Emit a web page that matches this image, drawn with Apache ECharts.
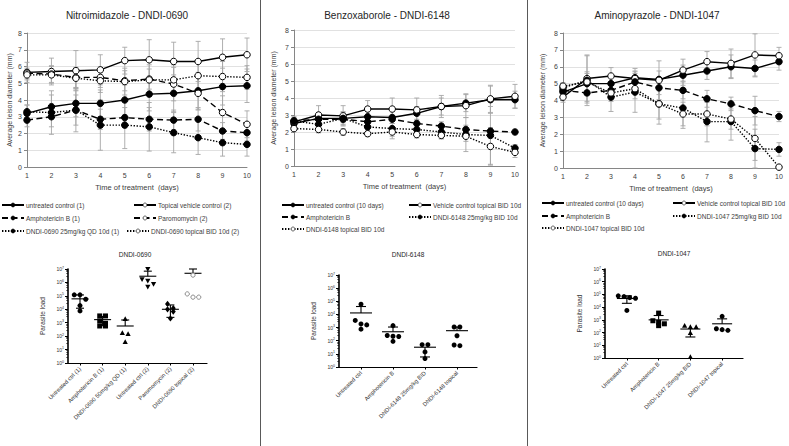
<!DOCTYPE html>
<html><head><meta charset="utf-8">
<script src="https://cdn.jsdelivr.net/npm/echarts@6/dist/echarts.min.js"></script>
<style>html,body{margin:0;padding:0;background:#fff}#c{width:789px;height:446px}</style>
</head><body><div id="c"></div>
<script>
// ---------- DATA ----------
const days = [1,2,3,4,5,6,7,8,9,10];

// Panel 1: Nitroimidazole - DNDI-0690
const p1Names = ['untreated control (1)','Topical vehicle control (2)','Amphotericin B (1)','Paromomycin (2)','DNDI-0690 25mg/kg QD 10d (1)','DNDI-0690 topical BID 10d (2)'];
const p1_untreated = [3.2, 3.6, 3.8, 3.8, 4.0, 4.35, 4.4, 4.55, 4.8, 4.85];
const p1_untreated_err = [0.5, 0.7, 0.8, 0.8, 0.9, 1.0, 1.1, 1.1, 1.1, 1.0];
const p1_vehicle = [5.65, 5.7, 5.75, 5.8, 6.35, 6.4, 6.3, 6.3, 6.55, 6.7];
const p1_vehicle_err = [0.6, 0.8, 1.2, 0.9, 0.8, 1.2, 1.15, 1.2, 1.1, 1.0];
const p1_ampho = [2.8, 3.0, 3.4, 2.85, 2.95, 2.85, 2.8, 2.85, 2.15, 2.05];
const p1_ampho_err = [0.4, 0.6, 0.9, 0.6, 0.6, 0.7, 0.6, 0.7, 0.5, 0.5];
const p1_paro = [5.6, 5.55, 5.35, 5.35, 5.15, 5.25, 4.95, 4.4, 3.25, 2.55];
const p1_paro_err = [0.3, 0.5, 0.6, 0.6, 0.6, 0.6, 1.0, 1.0, 1.0, 0.8];
const p1_oral = [3.3, 3.25, 3.4, 2.5, 2.5, 2.4, 2.05, 1.75, 1.45, 1.35];
const p1_oral_err = [0.4, 1.3, 1.3, 1.5, 1.4, 1.45, 1.2, 1.0, 0.8, 0.7];
const p1_topical = [5.5, 5.5, 5.3, 5.15, 5.1, 5.2, 5.2, 5.45, 5.4, 5.35];
const p1_topical_err = [0.3, 0.5, 0.6, 0.7, 0.8, 0.9, 0.9, 0.8, 0.9, 0.7];

// Panel 2: Benzoxaborole - DNDI-6148
const p2Names = ['untreated control (10 days)','Vehicle control topical BID 10d','Amphotericin B','DNDI-6148 25mg/kg BID 10d','DNDI-6148 topical BID 10d'];
const p2_untreated = [2.5, 2.8, 2.8, 2.9, 2.85, 3.1, 3.5, 3.7, 3.9, 3.9];
const p2_untreated_err = [0.2, 0.35, 0.4, 0.3, 0.35, 0.4, 0.5, 0.5, 0.8, 0.5];
const p2_vehicle = [2.6, 3.0, 2.95, 3.35, 3.35, 3.3, 3.5, 3.55, 3.95, 4.1];
const p2_vehicle_err = [0.3, 0.55, 0.6, 0.5, 0.65, 0.7, 0.65, 0.7, 0.8, 0.7];
const p2_ampho = [2.65, 2.75, 2.75, 2.6, 2.75, 2.5, 2.35, 2.15, 2.05, 2.0];
const p2_ampho_err = [0.15, 0.2, 0.2, 0.25, 0.25, 0.25, 0.25, 0.25, 0.2, 0.15];
const p2_oral = [2.65, 2.45, 2.8, 2.3, 2.2, 2.15, 2.0, 1.85, 1.8, 1.05];
const p2_oral_err = [0.2, 0.3, 0.35, 0.3, 0.6, 0.3, 0.4, 1.0, 1.7, 0.2];
const p2_topical = [2.2, 2.15, 2.0, 1.9, 2.0, 1.85, 1.8, 1.75, 1.15, 0.8];
const p2_topical_err = [0.2, 0.2, 0.2, 0.15, 0.25, 0.2, 0.2, 0.3, 1.1, 0.3];

// Panel 3: Aminopyrazole - DNDI-1047
const p3Names = ['untreated control (10 days)','Vehicle control topical BID 10d','Amphotericin B','DNDI-1047 25mg/kg BID 10d','DNDI-1047 topical BID 10d'];
const p3_untreated = [4.5, 5.0, 5.0, 5.35, 5.25, 5.5, 5.75, 6.0, 5.9, 6.3];
const p3_untreated_err = [0.2, 0.7, 0.5, 0.4, 0.5, 0.6, 0.5, 0.7, 0.5, 0.5];
const p3_vehicle = [4.2, 5.3, 5.45, 5.3, 5.2, 5.8, 6.3, 6.2, 6.7, 6.65];
const p3_vehicle_err = [0.3, 1.35, 0.5, 0.6, 1.15, 0.65, 0.6, 0.85, 1.25, 0.5];
const p3_ampho = [4.6, 4.45, 4.6, 5.1, 4.75, 4.6, 4.1, 3.8, 3.4, 3.05];
const p3_ampho_err = [0.3, 0.6, 0.5, 0.5, 0.4, 0.5, 0.5, 0.4, 0.85, 0.3];
const p3_oral = [4.75, 5.2, 4.2, 4.5, 3.8, 3.55, 2.75, 2.75, 1.15, 1.1];
const p3_oral_err = [0.2, 1.5, 0.85, 1.2, 1.2, 1.2, 1.2, 1.1, 1.15, 0.4];
const p3_topical = [4.85, 5.1, 4.45, 4.7, 3.8, 3.2, 3.2, 2.9, 1.75, 0.05];
const p3_topical_err = [0.2, 0.5, 0.5, 0.6, 0.9, 0.7, 0.7, 0.6, 1.3, 0.1];

// Parasite load scatter plots (log scale 10^0 .. 10^7)
const s1Title = 'DNDI-0690';
const s1Cats = ['Untreated ctrl (1)','Amphotericin B (1)','DNDI-0690 50mg/kg QD (1)','Untreated ctrl (2)','Paromomycin (2)','DNDI-0690 topical (2)'];
const s1Points = [[1.2e5,1.2e5,5.6e4,1.9e4,7.6e3],[3.2e3,3.2e3,1.35e3,9.1e2,5.7e2,5.7e2],[1.9e3,1.7e2,1.45e2,3.6e1],[1.0e7,1.7e6,4.8e5,7.6e5,1.35e6],[2.5e4,1.0e4,1.2e4,6.8e3,2.1e3],[3.5e6,1.4e5,8.0e4,8.0e4]];
const s1Mean = [6.0e4, 1.7e3, 5.7e2, 2.9e6, 1.0e4, 4.8e6];
const s1Hi = [1.17e5, 2.9e3, 1.6e3, 6.9e6, 2.1e4, 1.0e7];
const s1Lo = [1.2e4, 6.0e2, 5.7e2, 2.9e6, 2.5e3, 4.8e6];

const s2Title = 'DNDI-6148';
const s2Cats = ['Untreated ctrl','Amphotericin B','DNDI-6148 25mg/kg BID','DNDI-6148 topical'];
const s2Points = [[6.0e4,3.5e3,1.6e3,1.9e3,7.6e2],[1.4e3,2.2e2,2.1e2,2.5e2,9.0e1],[5.0e1,5.0e1,1.4e1,4.4e0],[1.1e3,1.1e3,2.4e2,4.2e1,4.7e1]];
const s2Mean = [1.3e4, 4.8e2, 3.2e1, 5.8e2];
const s2Hi = [4.0e4, 1.1e3, 3.2e1, 1.1e3];
const s2Lo = [1.3e4, 4.8e2, 5.8e0, 5.8e2];

const s3Title = 'DNDI-1047';
const s3Cats = ['Untreated ctrl','Amphotericin B','DNDI-1047 25mg/kg BID','DNDI-1047 topical'];
const s3Points = [[7.8e4,5.6e4,5.0e4,6.8e4,5.5e3],[3.4e3,6.3e2,3.5e2,4.9e2,8.5e2],[2.7e2,3.4e2,2.7e2,9.1e1,1.2e0],[1.9e3,2.0e2,1.5e2,1.7e2]];
const s3Mean = [4.8e4, 1.0e3, 1.9e2, 4.9e2];
const s3Hi = [7.8e4, 2.2e3, 1.9e2, 1.2e3];
const s3Lo = [2.0e4, 1.0e3, 4.5e1, 4.9e2];

// ---------- STYLE / LAYOUT ----------
const FONT = 'Liberation Sans, Arial, sans-serif';
const DASH = {solid: 'solid', dashed: [6, 3.5], dotted: [1.4, 1.6]};

function lineSeries(name, vals, idx, dash, filled) {
  return {
    type: 'line', name: name, xAxisIndex: idx, yAxisIndex: idx,
    data: days.map((d, i) => [d, vals[i]]),
    symbol: 'circle', symbolSize: 6.5, z: 5,
    lineStyle: {color: '#000', width: 1.4, type: DASH[dash]},
    itemStyle: {color: filled ? '#000' : '#fff', borderColor: '#000', borderWidth: 1},
    emphasis: {disabled: true}, animation: false
  };
}
function errSeries(vals, errs, idx) {
  return {
    type: 'custom', xAxisIndex: idx, yAxisIndex: idx, z: 2, silent: true, animation: false,
    data: days.map((d, i) => [d, vals[i] - errs[i], vals[i] + errs[i]]),
    renderItem: function (params, api) {
      const x = api.value(0);
      const a = api.coord([x, api.value(2)]);
      const b = api.coord([x, api.value(1)]);
      const c = 2.5, st = {stroke: '#a6a6a6', lineWidth: 0.9};
      return {type: 'group', children: [
        {type: 'line', shape: {x1: a[0], y1: a[1], x2: b[0], y2: b[1]}, style: st},
        {type: 'line', shape: {x1: a[0]-c, y1: a[1], x2: a[0]+c, y2: a[1]}, style: st},
        {type: 'line', shape: {x1: b[0]-c, y1: b[1], x2: b[0]+c, y2: b[1]}, style: st}
      ]};
    }
  };
}

function markerShape(kind, x, y, s) {
  const r = s / 2;
  if (kind === 'circle') return {type: 'circle', shape: {cx: x, cy: y, r: r}, style: {fill: '#000'}};
  if (kind === 'circleOpen') return {type: 'circle', shape: {cx: x, cy: y, r: r * 0.85}, style: {fill: '#fff', stroke: '#808080', lineWidth: 0.9}};
  if (kind === 'square') return {type: 'rect', shape: {x: x - r, y: y - r, width: s, height: s}, style: {fill: '#000'}};
  if (kind === 'triangle') return {type: 'polygon', shape: {points: [[x, y - r * 1.1], [x + r * 1.05, y + r * 0.8], [x - r * 1.05, y + r * 0.8]]}, style: {fill: '#000'}};
  if (kind === 'triangleDown') return {type: 'polygon', shape: {points: [[x, y + r * 1.1], [x + r * 1.05, y - r * 0.8], [x - r * 1.05, y - r * 0.8]]}, style: {fill: '#000'}};
  return {type: 'polygon', shape: {points: [[x, y - r * 1.25], [x + r, y], [x, y + r * 1.25], [x - r, y]]}, style: {fill: '#000'}};
}

function swarmSeries(idx, points, mean, hi, lo, kinds, meanHalf, capHalf, sz) {
  return {
    type: 'custom', xAxisIndex: idx, yAxisIndex: idx, silent: true, animation: false, clip: false, z: 5,
    data: mean.map((m, i) => [i, m]),
    renderItem: function (params, api) {
      const ci = api.value(0);
      const c = api.coord([ci, mean[ci]]);
      const cx = c[0], cy = c[1];
      const st = {stroke: '#000', lineWidth: 1.1};
      const ch = [];
      ch.push({type: 'line', shape: {x1: cx - meanHalf, y1: cy, x2: cx + meanHalf, y2: cy}, style: st});
      const yh = api.coord([ci, hi[ci]])[1], yl = api.coord([ci, lo[ci]])[1];
      if (yh < cy - 0.5) {
        ch.push({type: 'line', shape: {x1: cx, y1: cy, x2: cx, y2: yh}, style: st});
        ch.push({type: 'line', shape: {x1: cx - capHalf, y1: yh, x2: cx + capHalf, y2: yh}, style: st});
      }
      if (yl > cy + 0.5) {
        ch.push({type: 'line', shape: {x1: cx, y1: cy, x2: cx, y2: yl}, style: st});
        ch.push({type: 'line', shape: {x1: cx - capHalf, y1: yl, x2: cx + capHalf, y2: yl}, style: st});
      }
      // simple beeswarm layout of points
      const pts = points[ci];
      const ys = pts.map(v => api.coord([ci, v])[1]);
      const order = ys.map((y, i) => i).sort((a, b) => ys[a] - ys[b]);
      const groups = [];
      let cur = [order[0]];
      for (let k = 1; k < order.length; k++) {
        if (ys[order[k]] - ys[cur[0]] < sz * 0.95) cur.push(order[k]);
        else { groups.push(cur); cur = [order[k]]; }
      }
      groups.push(cur);
      groups.forEach(g => {
        const n = g.length;
        g.forEach((pi, j) => {
          const dx = (j - (n - 1) / 2) * sz * 1.15;
          ch.push(markerShape(kinds[ci], cx + dx, ys[pi], sz));
        });
      });
      return {type: 'group', children: ch};
    }
  };
}

const lineGrids = [
  {left: 27, top: 33, width: 220, height: 134},
  {left: 294, top: 30, width: 221, height: 136},
  {left: 563, top: 33, width: 216, height: 135}
];
const axisGrids = [
  {left: 68, top: 269, width: 139, height: 94},
  {left: 339, top: 275, width: 138, height: 92},
  {left: 605, top: 269, width: 138, height: 89}
];
const dataGrids = [
  {left: 68.7, top: 269, width: 135.6, height: 94},
  {left: 345, top: 275, width: 128, height: 92},
  {left: 611, top: 269, width: 127, height: 89}
];

const xAxes = [], yAxes = [];
const yNameGaps = [14, 17, 17];
lineGrids.forEach((g, i) => {
  xAxes.push({gridIndex: i, type: 'value', min: 1, max: 10, interval: 1,
    axisLine: {lineStyle: {color: '#868686', width: 1}}, axisTick: {show: false},
    axisLabel: {fontSize: 7, color: '#404040', fontFamily: FONT, margin: 5},
    splitLine: {show: false},
    name: 'Time of treatment  (days)', nameLocation: 'middle', nameGap: 16,
    nameTextStyle: {fontSize: 7.5, color: '#404040', fontFamily: FONT}});
  yAxes.push({gridIndex: i, type: 'value', min: 0, max: 8, interval: 1,
    axisLine: {show: true, lineStyle: {color: '#868686', width: 1}},
    axisTick: {show: true, length: 3, lineStyle: {color: '#868686'}},
    axisLabel: {fontSize: 7, color: '#404040', fontFamily: FONT, margin: 5},
    splitLine: {show: true, lineStyle: {color: '#d9d9d9', width: 0.8}},
    name: 'Average leison diameter (mm)', nameLocation: 'middle', nameGap: yNameGaps[i],
    nameTextStyle: {fontSize: 7, color: '#404040', fontFamily: FONT}});
});
function logLabel(v) {
  const e = Math.round(Math.log10(v));
  return '{b|10}{s|' + e + '}';
}
axisGrids.forEach((g, i) => {
  xAxes.push({gridIndex: 3 + i, type: 'value', min: 0, max: 1,
    axisLine: {lineStyle: {color: '#000', width: 1.2}}, axisTick: {show: false},
    axisLabel: {show: false}, splitLine: {show: false}});
  yAxes.push({gridIndex: 3 + i, type: 'log', logBase: 10, min: 1, max: 1e7, interval: 1,
    axisLine: {show: true, lineStyle: {color: '#000', width: 1.6}},
    axisTick: {show: true, length: 3, lineStyle: {color: '#000', width: 1}},
    minorTick: {show: true, splitNumber: 5, length: 1.8, lineStyle: {color: '#000', width: 0.6}},
    axisLabel: {formatter: logLabel, margin: 4, rich: {
      b: {fontSize: 5, color: '#333', fontFamily: FONT},
      s: {fontSize: 3.5, color: '#333', fontFamily: FONT, verticalAlign: 'top', padding: [0, 0, 3, 0]}}},
    splitLine: {show: false},
    name: 'Parasite load', nameLocation: 'middle', nameGap: 22,
    nameTextStyle: {fontSize: 6.5, color: '#333', fontFamily: FONT}});
});
const sCats = [s1Cats, s2Cats, s3Cats];
dataGrids.forEach((g, i) => {
  xAxes.push({gridIndex: 6 + i, type: 'category', data: sCats[i],
    axisLine: {show: false},
    axisTick: {show: true, alignWithLabel: true, length: 2.5, lineStyle: {color: '#000', width: 1}},
    axisLabel: {rotate: 45, interval: 0, fontSize: 5.8, color: '#333', fontFamily: FONT, margin: 5},
    splitLine: {show: false}});
  yAxes.push({gridIndex: 6 + i, type: 'log', logBase: 10, min: 1, max: 1e7, show: false});
});

const series = [
  errSeries(p1_untreated, p1_untreated_err, 0), errSeries(p1_vehicle, p1_vehicle_err, 0),
  errSeries(p1_ampho, p1_ampho_err, 0), errSeries(p1_paro, p1_paro_err, 0),
  errSeries(p1_oral, p1_oral_err, 0), errSeries(p1_topical, p1_topical_err, 0),
  errSeries(p2_untreated, p2_untreated_err, 1), errSeries(p2_vehicle, p2_vehicle_err, 1),
  errSeries(p2_ampho, p2_ampho_err, 1), errSeries(p2_oral, p2_oral_err, 1), errSeries(p2_topical, p2_topical_err, 1),
  errSeries(p3_untreated, p3_untreated_err, 2), errSeries(p3_vehicle, p3_vehicle_err, 2),
  errSeries(p3_ampho, p3_ampho_err, 2), errSeries(p3_oral, p3_oral_err, 2), errSeries(p3_topical, p3_topical_err, 2),
  lineSeries(p1Names[0], p1_untreated, 0, 'solid', true),
  lineSeries(p1Names[1], p1_vehicle, 0, 'solid', false),
  lineSeries(p1Names[2], p1_ampho, 0, 'dashed', true),
  lineSeries(p1Names[3], p1_paro, 0, 'dashed', false),
  lineSeries(p1Names[4], p1_oral, 0, 'dotted', true),
  lineSeries(p1Names[5], p1_topical, 0, 'dotted', false),
  lineSeries(p2Names[0], p2_untreated, 1, 'solid', true),
  lineSeries(p2Names[1], p2_vehicle, 1, 'solid', false),
  lineSeries(p2Names[2], p2_ampho, 1, 'dashed', true),
  lineSeries(p2Names[3], p2_oral, 1, 'dotted', true),
  lineSeries(p2Names[4], p2_topical, 1, 'dotted', false),
  lineSeries(p3Names[0], p3_untreated, 2, 'solid', true),
  lineSeries(p3Names[1], p3_vehicle, 2, 'solid', false),
  lineSeries(p3Names[2], p3_ampho, 2, 'dashed', true),
  lineSeries(p3Names[3], p3_oral, 2, 'dotted', true),
  lineSeries(p3Names[4], p3_topical, 2, 'dotted', false),
  swarmSeries(6, s1Points, s1Mean, s1Hi, s1Lo, ['circle','square','triangle','triangleDown','diamond','circleOpen'], 8.5, 4, 5),
  swarmSeries(7, s2Points, s2Mean, s2Hi, s2Lo, ['circle','circle','circle','circle'], 11, 5, 5),
  swarmSeries(8, s3Points, s3Mean, s3Hi, s3Lo, ['circle','square','triangle','circle'], 10, 5, 5)
];

function leg(name, left, rowY) {
  return {data: [name], left: left, top: rowY - 2.5, padding: 0, itemGap: 0,
    itemWidth: 22, itemHeight: 5, selectedMode: false,
    itemStyle: {borderWidth: 0.6},
    textStyle: {fontSize: 6.5, color: '#404040', fontFamily: FONT, padding: [0, 0, 0, -3]}};
}
const legends = [
  leg(p1Names[0], 1, 204), leg(p1Names[2], 1, 217), leg(p1Names[4], 1, 230),
  leg(p1Names[1], 133, 204), leg(p1Names[3], 133, 217), leg(p1Names[5], 126, 230),
  leg(p2Names[0], 281, 204), leg(p2Names[2], 281, 216), leg(p2Names[4], 281, 228),
  leg(p2Names[1], 408, 204), leg(p2Names[3], 408, 216),
  leg(p3Names[0], 541, 202), leg(p3Names[2], 541, 215), leg(p3Names[4], 541, 227),
  leg(p3Names[1], 672, 202), leg(p3Names[3], 672, 215)
];

function txt(t, x, y, size) {
  return {type: 'text', x: x, y: y, silent: true,
    style: {text: t, fill: '#262626', font: size + 'px ' + FONT, textAlign: 'center', textVerticalAlign: 'middle'}};
}
const graphics = [
  {type: 'line', shape: {x1: 260.5, y1: 0, x2: 260.5, y2: 446}, style: {stroke: '#595959', lineWidth: 1}, silent: true},
  {type: 'line', shape: {x1: 527.5, y1: 0, x2: 527.5, y2: 446}, style: {stroke: '#595959', lineWidth: 1}, silent: true},
  txt('Nitroimidazole - DNDI-0690', 127, 15, 10),
  txt('Benzoxaborole - DNDI-6148', 387, 15, 10),
  txt('Aminopyrazole - DNDI-1047', 657, 15, 10),
  txt(s1Title, 135, 254, 6.5),
  txt(s2Title, 408, 254, 6.5),
  txt(s3Title, 674, 253, 6.5)
];

const chart = echarts.init(document.getElementById('c'), null, {renderer: 'svg'});
chart.setOption({
  animation: false,
  backgroundColor: '#fff',
  textStyle: {fontFamily: FONT},
  grid: lineGrids.concat(axisGrids, dataGrids),
  xAxis: xAxes, yAxis: yAxes,
  legend: legends,
  series: series,
  graphic: graphics
});
</script></body></html>
